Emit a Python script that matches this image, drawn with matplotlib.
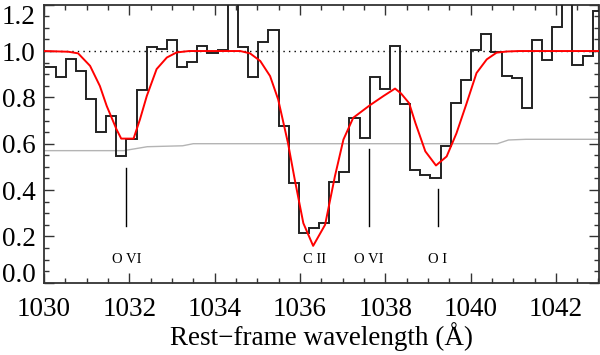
import numpy as np
import matplotlib
matplotlib.use("Agg")
import matplotlib.pyplot as plt
from matplotlib.ticker import MultipleLocator
from matplotlib.transforms import ScaledTranslation

plt.rcParams['font.family'] = ['Liberation Serif', 'DejaVu Serif']

# Observed spectrum: bin centres (Angstrom) and normalised flux
wave = [1030.15, 1030.39, 1030.62, 1030.86, 1031.10, 1031.34, 1031.57, 1031.81,
        1032.05, 1032.29, 1032.53, 1032.76, 1033.00, 1033.24, 1033.48, 1033.71,
        1033.95, 1034.19, 1034.43, 1034.67, 1034.90, 1035.14, 1035.38, 1035.62,
        1035.85, 1036.09, 1036.33, 1036.57, 1036.80, 1037.04, 1037.28, 1037.52,
        1037.76, 1037.99, 1038.23, 1038.47, 1038.71, 1038.94, 1039.18, 1039.42,
        1039.66, 1039.89, 1040.13, 1040.37, 1040.61, 1040.85, 1041.08, 1041.32,
        1041.56, 1041.80, 1042.03, 1042.27, 1042.51, 1042.75, 1042.98]
flux = [0.932, 0.886, 0.964, 0.915, 0.793, 0.650, 0.718, 0.547,
        0.620, 0.833, 1.016, 1.009, 1.047, 0.932, 0.954, 1.023,
        0.990, 1.003, 1.350, 1.018, 0.886, 1.037, 1.090, 0.675,
        0.430, 0.216, 0.236, 0.258, 0.433, 0.478, 0.712, 0.626,
        0.889, 0.837, 1.023, 0.770, 0.488, 0.466, 0.452, 0.588,
        0.774, 0.873, 1.004, 1.075, 0.994, 0.894, 0.883, 0.754,
        1.048, 0.963, 1.104, 1.300, 0.940, 0.980, 1.172]

# Model fit (red)
model_wave = [1030.00, 1030.57, 1030.80, 1031.08, 1031.31, 1031.47, 1031.70, 1031.81,
              1032.10, 1032.25, 1032.41, 1032.64, 1032.88, 1033.11, 1033.40, 1034.60,
              1034.83, 1035.07, 1035.30, 1035.49, 1035.72, 1035.88, 1036.08, 1036.31,
              1036.59, 1036.82, 1037.02, 1037.25, 1037.64, 1037.96, 1038.23, 1038.37,
              1038.56, 1038.71, 1038.94, 1039.19, 1039.44, 1039.67, 1039.90, 1040.14,
              1040.38, 1040.61, 1040.85, 1041.14, 1043.00]
model_flux = [1.000, 0.997, 0.990, 0.936, 0.849, 0.763, 0.662, 0.622,
              0.622, 0.705, 0.806, 0.922, 0.972, 0.994, 1.000, 1.000,
              0.990, 0.957, 0.892, 0.791, 0.603, 0.444, 0.257, 0.159,
              0.250, 0.459, 0.618, 0.712, 0.766, 0.806, 0.838, 0.817,
              0.775, 0.688, 0.567, 0.506, 0.545, 0.645, 0.770, 0.905,
              0.964, 0.993, 0.998, 1.000, 1.000]

# Error spectrum (grey)
err_wave = [1030.00, 1031.87, 1032.42, 1033.25, 1033.50, 1040.63, 1040.89, 1041.30, 1043.00]
err_flux = [0.570, 0.570, 0.587, 0.591, 0.600, 0.600, 0.616, 0.619, 0.619]

# Line identifications
line_names = ['O VI', 'C II', 'O VI', 'O I']
line_wave = [1031.93, 1036.34, 1037.62, 1039.23]
line_top = [0.497, None, 0.575, 0.406]
line_bottom = [0.246, None, 0.246, 0.246]
label_y = 0.100

fig = plt.figure(figsize=(6.0, 3.55), dpi=100)
ax = fig.add_axes([44/600, 1-282.7/355, 554.5/600, 278.0/355])

ax.axhline(1.0, color='black', lw=1.0, ls=(0, (1, 3)), zorder=1)
ax.plot(err_wave, err_flux, color='#b4b4b4', lw=1.0, zorder=2)

w = np.asarray(wave)
mids = (w[1:] + w[:-1]) / 2
edges = np.concatenate([[w[0] - (mids[0] - w[0])], mids, [w[-1] + (w[-1] - mids[-1])]])
ax.stairs(flux, edges, baseline=None, color='#222222', lw=1.4, zorder=3)

ax.plot(model_wave, model_flux, color='#ff0000', lw=1.4, zorder=4)

for name, lw_, top, bot in zip(line_names, line_wave, line_top, line_bottom):
    if top is not None:
        ax.plot([lw_, lw_], [bot, top], color='black', lw=1.0, zorder=3)
    ax.text(lw_, label_y, name, ha='center', va='center', fontsize=10.5)

ax.set_xlim(1030, 1043)
ax.set_ylim(0.0, 1.2)
ax.xaxis.set_minor_locator(MultipleLocator(0.5))
ax.yaxis.set_minor_locator(MultipleLocator(0.05))
ax.set_xticks([1030, 1032, 1034, 1036, 1038, 1040, 1042])
ax.set_yticks([0.0, 0.2, 0.4, 0.6, 0.8, 1.0, 1.2])
ax.set_yticklabels(['0.0', '0.2', '0.4', '0.6', '0.8', '1.0', '1.2'])

ax.tick_params(which='both', direction='in', top=True, right=True,
               color='#333333', width=1.0, labelsize=19.5)
ax.tick_params(which='major', length=7)
ax.tick_params(which='minor', length=3.5)
ax.tick_params(axis='x', pad=10)
ax.tick_params(axis='y', pad=6)
for s in ax.spines.values():
    s.set_linewidth(1.3)
    s.set_color('#333333')

ylabels = ax.get_yticklabels()
ylabels[0].set_transform(ylabels[0].get_transform() + ScaledTranslation(0, 10/100, fig.dpi_scale_trans))
ylabels[-1].set_transform(ylabels[-1].get_transform() + ScaledTranslation(0, -9.5/100, fig.dpi_scale_trans))

fig.text((44 + 554.5/2)/600, 10/355, 'Rest\u2212frame wavelength (\u00c5)',
         fontsize=19.5, ha='center', va='baseline')

fig.savefig('out.png', dpi=100)
